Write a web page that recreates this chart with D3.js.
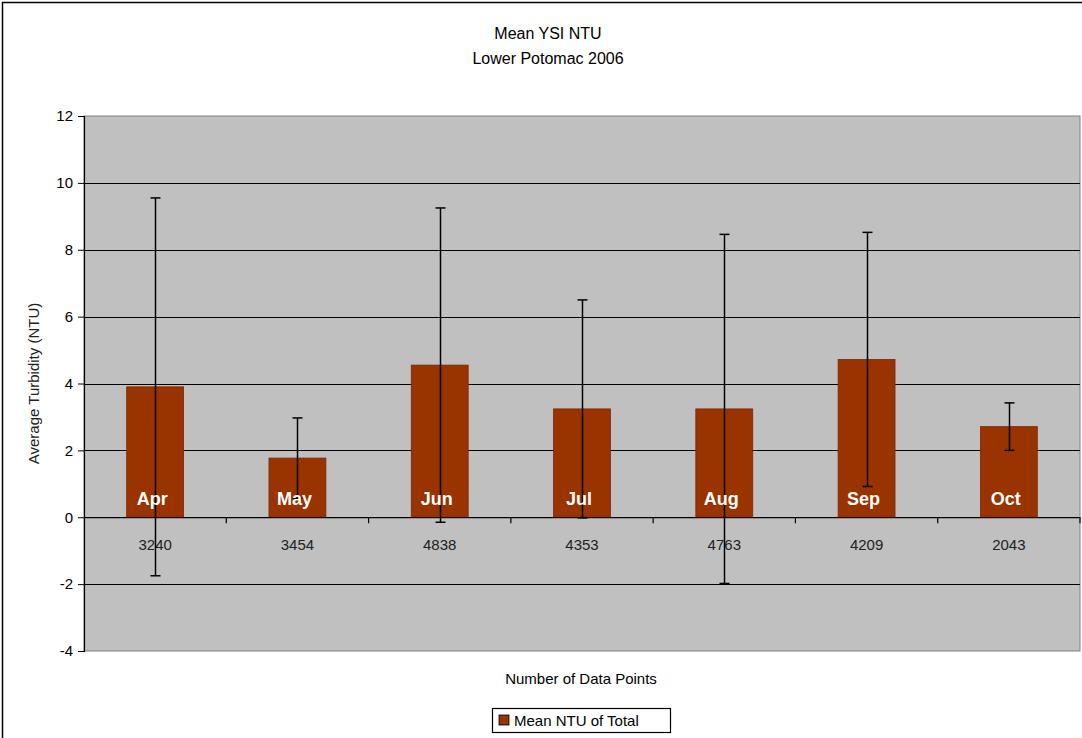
<!DOCTYPE html>
<html>
<head>
<meta charset="utf-8">
<script src="https://cdn.jsdelivr.net/npm/d3@7/dist/d3.min.js"></script>
<style>
body { margin: 0; background: #fff; }
svg { display: block; font-family: Arial, "Liberation Sans", sans-serif; }
</style>
</head>
<body>
<svg id="chart" width="1082" height="738"></svg>
<script>
const months = ["Apr", "May", "Jun", "Jul", "Aug", "Sep", "Oct"];
const counts = ["3240", "3454", "4838", "4353", "4763", "4209", "2043"];
const means = [3.9, 1.77, 4.55, 3.24, 3.24, 4.72, 2.71];
const errors = [5.65, 1.2, 4.7, 3.26, 5.22, 3.8, 0.71];
const yTicks = [-4, -2, 0, 2, 4, 6, 8, 10, 12];
const titleLines = ["Mean YSI NTU", "Lower Potomac 2006"];
const legendLabel = "Mean NTU of Total";

const svg = d3.select("#chart");
const W = 1082, H = 738;
const plot = { left: 84, right: 1080, top: 116, bottom: 651 };

// outer frame
svg.append("rect").attr("x", 2.5).attr("y", 2.5).attr("width", W + 10).attr("height", H + 10)
  .attr("fill", "#fff").attr("stroke", "#000").attr("stroke-width", 1.5);

// title
svg.selectAll("text.title").data(titleLines).join("text")
  .attr("class", "title")
  .attr("x", 548).attr("y", (d, i) => 39 + i * 25)
  .attr("text-anchor", "middle").attr("font-size", 16).attr("fill", "#000")
  .text(d => d);

const x = d3.scaleBand().domain(months).range([plot.left, plot.right]).paddingInner(0).paddingOuter(0);
const y = d3.scaleLinear().domain([-4, 12]).range([plot.bottom, plot.top]);

// plot background
svg.append("rect").attr("x", plot.left).attr("y", plot.top)
  .attr("width", plot.right - plot.left).attr("height", plot.bottom - plot.top)
  .attr("fill", "#c0c0c0").attr("stroke", "#808080").attr("stroke-width", 1);

// gridlines
svg.append("g").selectAll("line").data(yTicks.filter(t => t !== -4 && t !== 12)).join("line")
  .attr("x1", plot.left).attr("x2", plot.right)
  .attr("y1", d => Math.round(y(d)) + 0.5).attr("y2", d => Math.round(y(d)) + 0.5)
  .attr("stroke", "#000").attr("stroke-width", 1.2);

// y axis
const yAxis = d3.axisLeft(y).tickValues(yTicks).tickSize(6).tickPadding(5).tickFormat(d => String(d));
const gy = svg.append("g").attr("transform", `translate(${plot.left},0)`).call(yAxis);
gy.select(".domain").attr("stroke", "#000").attr("stroke-width", 1.2);
gy.selectAll(".tick line").attr("stroke", "#000");
gy.selectAll(".tick text").attr("font-size", 15).attr("fill", "#000")
  .attr("font-family", "Arial, 'Liberation Sans', sans-serif");

// bars
const bw = x.bandwidth() * 0.4;
svg.append("g").selectAll("rect").data(months).join("rect")
  .attr("x", d => x(d) + x.bandwidth() / 2 - bw / 2)
  .attr("width", bw)
  .attr("y", (d, i) => y(means[i]))
  .attr("height", (d, i) => y(0) - y(means[i]))
  .attr("fill", "#993300").attr("stroke", "#7a2900").attr("stroke-width", 0.8);

// x axis at zero
const xAxis = d3.axisBottom(x).tickSize(0).tickFormat((d, i) => counts[i]).tickPadding(22);
const gx = svg.append("g").attr("transform", `translate(0,${y(0)})`).call(xAxis);
gx.select(".domain").attr("stroke", "#000").attr("stroke-width", 1.2);
gx.selectAll(".tick text").attr("font-size", 15).attr("fill", "#222")
  .attr("font-family", "Arial, 'Liberation Sans', sans-serif");
// boundary ticks
const bounds = months.map(m => x(m)).concat([plot.right]).slice(1);
gx.append("g").selectAll("line").data(bounds).join("line")
  .attr("x1", d => d).attr("x2", d => d).attr("y1", 0).attr("y2", 6)
  .attr("stroke", "#000").attr("stroke-width", 1.2);

// error bars
const eb = svg.append("g").attr("stroke", "#000").attr("stroke-width", 1.5);
months.forEach((m, i) => {
  const cx = Math.round(x(m) + x.bandwidth() / 2) + 0.5;
  const y1 = y(means[i] + errors[i]), y2 = y(means[i] - errors[i]);
  eb.append("line").attr("x1", cx).attr("x2", cx).attr("y1", y1).attr("y2", y2);
  eb.append("line").attr("x1", cx - 5).attr("x2", cx + 5).attr("y1", y1).attr("y2", y1);
  eb.append("line").attr("x1", cx - 5).attr("x2", cx + 5).attr("y1", y2).attr("y2", y2);
});

// bar labels
svg.append("g").selectAll("text").data(months).join("text")
  .attr("x", d => x(d) + x.bandwidth() / 2 - 3)
  .attr("y", y(0) - 12)
  .attr("text-anchor", "middle").attr("font-size", 18).attr("font-weight", "bold")
  .attr("fill", "#fff").text(d => d);

// axis titles
svg.append("text").attr("transform", `translate(39,${(plot.top + plot.bottom) / 2}) rotate(-90)`)
  .attr("text-anchor", "middle").attr("font-size", 15).attr("fill", "#222")
  .text("Average Turbidity (NTU)");
svg.append("text").attr("x", 581).attr("y", 684).attr("text-anchor", "middle")
  .attr("font-size", 15).attr("fill", "#000").text("Number of Data Points");

// legend
const lg = svg.append("g");
lg.append("rect").attr("x", 492.5).attr("y", 708.5).attr("width", 178).attr("height", 24)
  .attr("fill", "#fff").attr("stroke", "#000").attr("stroke-width", 1.2);
lg.append("rect").attr("x", 499).attr("y", 715).attr("width", 10).attr("height", 10)
  .attr("fill", "#993300").attr("stroke", "#000").attr("stroke-width", 0.8);
lg.append("text").attr("x", 514).attr("y", 726).attr("font-size", 15).attr("fill", "#000")
  .text(legendLabel);
</script>
</body>
</html>
